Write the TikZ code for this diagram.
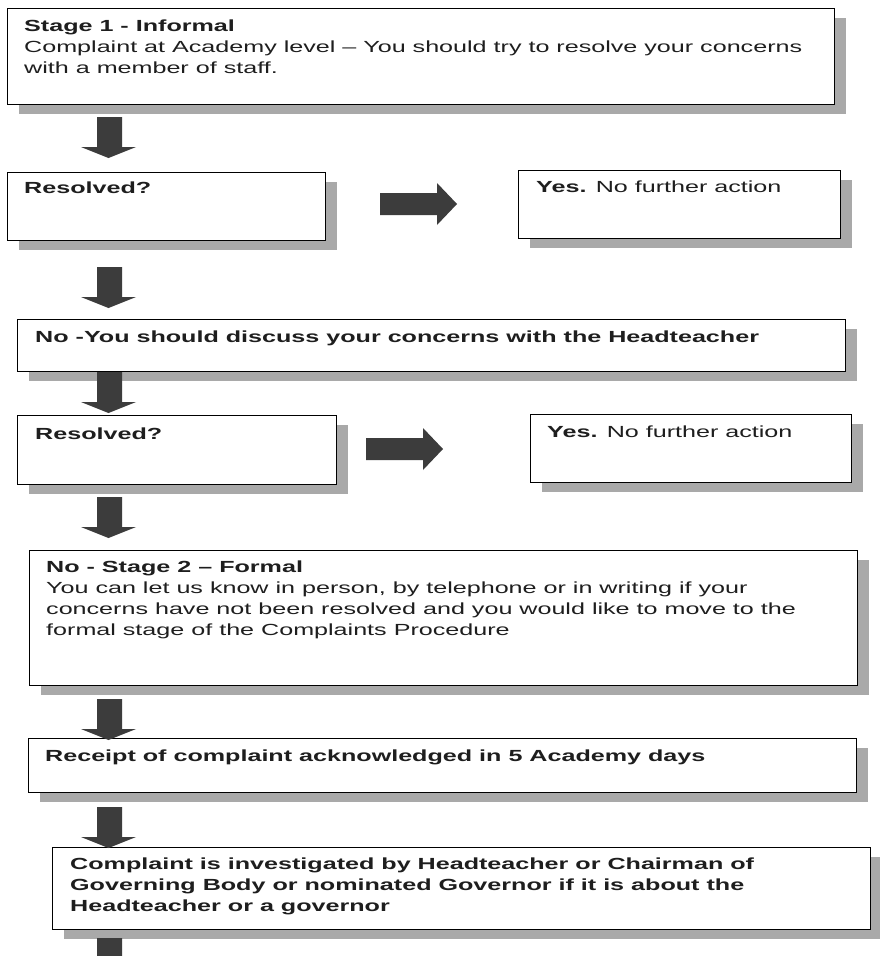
\documentclass[tikz,border=0pt]{standalone}
\usepackage{fontspec}
\setmainfont{Liberation Sans}[FakeStretch=1.56]
\usetikzlibrary{shadows}
\definecolor{arrowgray}{HTML}{3C3C3C}
\definecolor{shadowgray}{HTML}{A9A9A9}
\definecolor{inkgray}{HTML}{1E1E1E}

\begin{document}
\begin{tikzpicture}[x=1pt, y=-1pt,
    box/.style={draw=black, line width=1pt, fill=white, anchor=north west, inner sep=0pt,
        drop shadow={shadow xshift=11pt, shadow yshift=-9pt, fill=shadowgray, opacity=1}},
    txt/.style={anchor=north west, inner sep=0pt, align=left, text=inkgray,
        font=\fontsize{16.1}{21}\selectfont},
    blockarrow/.style={fill=arrowgray}]
    \clip (0,0) rectangle (880,956);
    \fill[white] (0,0) rectangle (880,956);

    % boxes
    \node[box, minimum width=827pt, minimum height=96pt] (stage1) at (7,8) {};
    \node[box, minimum width=318pt, minimum height=68pt] (resolved1) at (7,172) {};
    \node[box, minimum width=322pt, minimum height=68pt] (yes1) at (518,170) {};
    \node[box, minimum width=828pt, minimum height=52pt] (head) at (17,319) {};
    \node[box, minimum width=319pt, minimum height=69pt] (resolved2) at (17,415) {};
    \node[box, minimum width=321pt, minimum height=68pt] (yes2) at (530,414) {};
    \node[box, minimum width=828pt, minimum height=135pt] (stage2) at (29,550) {};
    \node[box, minimum width=828pt, minimum height=54pt] (receipt) at (28,738) {};
    \node[box, minimum width=818pt, minimum height=82pt] (invest) at (52,847) {};

    % texts
    \node[txt] (stage1text) at ([xshift=17pt, yshift=-12pt]stage1.north west)
        {\textbf{Stage 1 - Informal}\\Complaint at Academy level -- You should try to resolve your concerns\\with a member of staff.};
    \node[txt] (resolved1text) at ([xshift=17pt, yshift=-10pt]resolved1.north west) {\textbf{Resolved?}};
    \node[txt] (yes1text) at ([xshift=18pt, yshift=-11pt]yes1.north west) {\textbf{Yes.} No further action};
    \node[txt] (headtext) at ([xshift=18pt, yshift=-12pt]head.north west)
        {\textbf{No -You should discuss your concerns with the Headteacher}};
    \node[txt] (resolved2text) at ([xshift=18pt, yshift=-13pt]resolved2.north west) {\textbf{Resolved?}};
    \node[txt] (yes2text) at ([xshift=17pt, yshift=-12pt]yes2.north west) {\textbf{Yes.} No further action};
    \node[txt] (stage2text) at ([xshift=17pt, yshift=-11pt]stage2.north west)
        {\textbf{No - Stage 2 -- Formal}\\You can let us know in person, by telephone or in writing if your\\concerns have not been resolved and you would like to move to the\\formal stage of the Complaints Procedure};
    \node[txt] (receipttext) at ([xshift=17pt, yshift=-12pt]receipt.north west)
        {\textbf{Receipt of complaint acknowledged in 5 Academy days}};
    \node[txt] (investtext) at ([xshift=18pt, yshift=-11pt]invest.north west)
        {\textbf{Complaint is investigated by Headteacher or Chairman of}\\\textbf{Governing Body or nominated Governor if it is about the}\\\textbf{Headteacher or a governor}};

    % arrows
    \foreach \y in {117,267,372,497,699,807,938}
        \fill[blockarrow] (97,\y) -- (122,\y) -- (122,{\y+30}) -- (136,{\y+30})
            -- (108.5,{\y+41}) -- (81,{\y+30}) -- (97,{\y+30}) -- cycle;
    \foreach \x/\y in {380/204, 366/449}
        \fill[blockarrow] (\x,{\y-11}) -- ({\x+57},{\y-11}) -- ({\x+57},{\y-21})
            -- ({\x+77},\y) -- ({\x+57},{\y+21}) -- ({\x+57},{\y+11}) -- (\x,{\y+11}) -- cycle;
\end{tikzpicture}
\end{document}
